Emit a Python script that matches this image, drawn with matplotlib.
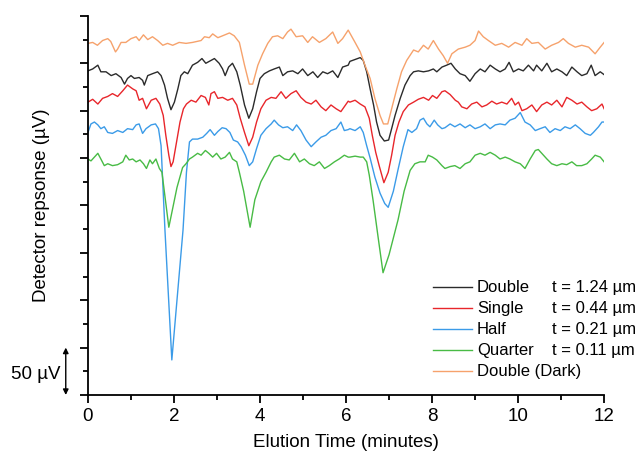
"""Cromatogramas do detector para diferentes espessuras de filme."""

import matplotlib

matplotlib.use("Agg")

import matplotlib.pyplot as plt

# Tempo (min) e sinal (uV) de cada curva.
t_double_dark = [0.0, 0.11, 0.22, 0.34, 0.46, 0.53, 0.64, 0.69, 0.77, 0.88,
                 1.0, 1.12, 1.19, 1.29, 1.39, 1.5, 1.62, 1.74, 1.85, 1.97,
                 2.12, 2.28, 2.43, 2.63, 2.71, 2.82, 2.9, 3.02, 3.13, 3.29,
                 3.4, 3.52, 3.64, 3.75, 3.83, 3.95, 4.06, 4.18, 4.29, 4.41,
                 4.53, 4.64, 4.72, 4.84, 4.99, 5.11, 5.22, 5.38, 5.53, 5.69,
                 5.81, 5.92, 6.05,
                 6.21, 6.33, 6.44, 6.56, 6.67, 6.79, 6.87, 6.97, 7.06, 7.18,
                 7.29, 7.41, 7.57, 7.68, 7.8, 7.91, 8.03, 8.15, 8.26, 8.36,
                 8.46, 8.61, 8.77, 8.88, 9.0, 9.08, 9.19, 9.31, 9.47, 9.62,
                 9.78, 9.93, 10.09, 10.2, 10.32, 10.47, 10.63, 10.78, 10.94, 11.05,
                 11.17, 11.33, 11.48, 11.64, 11.79, 11.91, 12.0]
v_double_dark = [371, 372, 369, 374, 376, 373, 362, 365, 372, 372,
                 376, 378, 374, 380, 375, 378, 374, 369, 371, 369,
                 372, 371, 372, 374, 378, 377, 381, 377, 379, 382,
                 379, 372, 348, 328, 328, 348, 360, 371, 378, 379,
                 376, 383, 386, 378, 379, 372, 378, 372, 376, 383,
                 371, 376, 385,
                 372, 362, 348, 334, 313, 295, 286, 286, 302, 323,
                 341, 353, 364, 362, 369, 365, 374, 365, 358, 350,
                 360, 365, 367, 369, 374, 384, 378, 374, 369, 371,
                 367, 372, 369, 376, 371, 372, 365, 369, 372, 376,
                 371, 367, 369, 367, 360, 367, 372]

t_double = [0.0, 0.11, 0.23, 0.3, 0.42, 0.54, 0.65, 0.77, 0.85, 0.92,
            1.0, 1.08, 1.19, 1.27, 1.31, 1.39, 1.5, 1.62, 1.7, 1.78,
            1.85, 1.93, 2.01, 2.09, 2.16, 2.24, 2.32, 2.43, 2.55, 2.65,
            2.74, 2.86, 2.94, 3.05, 3.13, 3.19, 3.27, 3.36, 3.46, 3.54,
            3.64, 3.74, 3.83, 3.92, 4.0, 4.1, 4.22, 4.33, 4.45, 4.53,
            4.64, 4.76, 4.88, 4.99, 5.11, 5.23, 5.34, 5.46, 5.57, 5.69,
            5.81, 5.92, 6.05,
            6.09, 6.21, 6.33, 6.4, 6.48, 6.56, 6.64, 6.71, 6.79, 6.89,
            6.99, 7.06, 7.14, 7.26, 7.37, 7.49, 7.57, 7.68, 7.8, 7.92,
            8.03, 8.11, 8.23, 8.34, 8.44, 8.54, 8.65, 8.77, 8.88, 9.0,
            9.12, 9.23, 9.35, 9.47, 9.58, 9.7, 9.79, 9.89, 10.01, 10.12,
            10.24, 10.36, 10.43, 10.55, 10.67, 10.78, 10.9, 11.02, 11.13, 11.25,
            11.37, 11.48, 11.6, 11.7, 11.79, 11.91, 12.0]
v_double = [342, 344, 348, 341, 341, 337, 339, 335, 328, 334,
            337, 334, 335, 332, 327, 337, 339, 341, 337, 327,
            313, 301, 309, 323, 337, 341, 339, 348, 351, 355,
            350, 353, 355, 350, 344, 337, 346, 350, 341, 327,
            306, 292, 302, 320, 334, 339, 342, 344, 346, 337,
            341, 342, 339, 344, 337, 341, 335, 341, 339, 342,
            335, 346, 348,
            352, 354, 356, 353, 341, 323, 306, 288, 274, 268,
            269, 281, 295, 313, 327, 337, 341, 342, 341, 342,
            344, 341, 346, 348, 350, 344, 339, 337, 331, 339,
            344, 341, 348, 344, 341, 344, 351, 341, 344, 342,
            348, 342, 348, 342, 350, 341, 344, 341, 337, 346,
            341, 337, 339, 348, 337, 341, 338]

t_single = [0.0, 0.11, 0.23, 0.34, 0.46, 0.57, 0.69, 0.81, 0.92, 1.04,
            1.12, 1.19, 1.27, 1.36, 1.47, 1.58, 1.67, 1.75, 1.81, 1.88,
            1.93, 1.98, 2.06, 2.14, 2.22, 2.29, 2.4, 2.51, 2.63, 2.73,
            2.81, 2.86, 2.94, 3.02, 3.13, 3.25, 3.36, 3.46, 3.54, 3.64,
            3.74, 3.83, 3.92, 4.02, 4.14, 4.26, 4.37, 4.49, 4.6, 4.72,
            4.84, 4.95, 5.07, 5.19, 5.3, 5.42, 5.53, 5.65, 5.77, 5.88,
            6.05,
            6.09, 6.21, 6.33, 6.44, 6.54, 6.61, 6.69, 6.77, 6.88, 6.98,
            7.06, 7.14, 7.23, 7.33, 7.45, 7.57, 7.68, 7.8, 7.92, 8.01,
            8.11, 8.23, 8.3, 8.42, 8.54, 8.61, 8.69, 8.81, 8.92, 9.04,
            9.16, 9.27, 9.39, 9.5, 9.62, 9.74, 9.85, 9.93, 10.01, 10.09,
            10.2, 10.32, 10.43, 10.55, 10.67, 10.78, 10.9, 11.02, 11.13, 11.25,
            11.37, 11.48, 11.6, 11.71, 11.83, 11.95, 12.0]
v_single = [309, 312, 307, 313, 315, 318, 315, 321, 327, 323,
            321, 311, 313, 302, 311, 313, 307, 295, 274, 253,
            241, 246, 267, 288, 302, 307, 311, 309, 316, 314,
            306, 318, 320, 313, 314, 311, 313, 306, 292, 277,
            263, 272, 288, 302, 311, 314, 313, 320, 313, 318,
            321, 314, 309, 307, 311, 304, 300, 306, 302, 299,
            310,
            309, 311, 307, 304, 292, 274, 256, 242, 224, 235,
            253, 274, 288, 299, 306, 309, 312, 314, 311, 316,
            313, 320, 321, 317, 311, 309, 304, 302, 307, 309,
            304, 306, 310, 307, 309, 307, 313, 306, 309, 300,
            302, 306, 299, 306, 309, 306, 311, 304, 314, 311,
            307, 309, 304, 300, 302, 307, 302]

t_half = [0.0, 0.07, 0.15, 0.23, 0.3, 0.38, 0.46, 0.57, 0.69, 0.81,
          0.92, 1.04, 1.12, 1.19, 1.27, 1.35, 1.47, 1.57, 1.64, 1.7,
          1.79, 1.95, 2.21, 2.29, 2.36, 2.43, 2.55, 2.67, 2.76, 2.84,
          2.94, 3.02, 3.12, 3.21, 3.3, 3.38, 3.48, 3.56, 3.66, 3.75,
          3.83, 3.92, 4.02, 4.14, 4.26, 4.33, 4.43, 4.53, 4.64, 4.76,
          4.85, 4.95, 5.07, 5.19, 5.3, 5.42, 5.53, 5.65, 5.77, 5.88,
          5.96, 6.05,
          6.09, 6.21, 6.33, 6.4, 6.48, 6.56, 6.67, 6.79, 6.9, 6.98,
          7.1, 7.21, 7.33, 7.44, 7.53, 7.64, 7.72, 7.8, 7.88, 7.95,
          8.05, 8.13, 8.23, 8.3, 8.42, 8.53, 8.65, 8.77, 8.88, 9.0,
          9.12, 9.23, 9.35, 9.47, 9.58, 9.7, 9.81, 9.93, 10.05, 10.16,
          10.28, 10.4, 10.51, 10.63, 10.74, 10.86, 10.98, 11.09, 11.21, 11.33,
          11.44, 11.56, 11.68, 11.75, 11.87, 11.95, 12.0]
v_half = [277, 286, 288, 285, 281, 283, 277, 276, 279, 277,
          281, 280, 285, 286, 276, 281, 285, 286, 281, 263,
          174, 37, 174, 235, 267, 270, 270, 272, 276, 280,
          274, 278, 282, 281, 277, 269, 267, 262, 253, 242,
          246, 260, 274, 281, 286, 290, 285, 282, 283, 279,
          285, 279, 269, 262, 267, 272, 274, 279, 281, 288,
          279, 280,
          281, 279, 283, 277, 263, 250, 230, 213, 202, 198,
          215, 238, 262, 280, 277, 281, 290, 292, 286, 283,
          290, 285, 281, 282, 286, 283, 286, 282, 285, 281,
          283, 286, 281, 285, 286, 285, 290, 292, 298, 288,
          285, 279, 281, 283, 277, 281, 279, 283, 281, 285,
          281, 276, 274, 277, 283, 288, 288]

t_quarter = [0.0, 0.07, 0.15, 0.23, 0.3, 0.38, 0.46, 0.57, 0.69, 0.81,
             0.88, 0.96, 1.04, 1.12, 1.21, 1.29, 1.36, 1.44, 1.5, 1.58,
             1.66, 1.72, 1.88, 2.07, 2.2, 2.28, 2.36, 2.43, 2.55, 2.63,
             2.73, 2.81, 2.9, 2.99, 3.09, 3.19, 3.29, 3.36, 3.46, 3.52,
             3.62, 3.77, 3.88, 4.02, 4.14, 4.26, 4.33, 4.45, 4.57, 4.68,
             4.8, 4.92, 5.03, 5.15, 5.26, 5.38, 5.5, 5.61, 5.73, 5.84,
             5.96, 6.05,
             6.09, 6.21, 6.33, 6.4, 6.48, 6.54, 6.63, 6.75, 6.86, 7.0,
             7.21, 7.35, 7.49, 7.6, 7.72, 7.84, 7.91, 8.01, 8.11, 8.23,
             8.3, 8.42, 8.53, 8.65, 8.77, 8.88, 9.0, 9.12, 9.23, 9.35,
             9.47, 9.58, 9.7, 9.81, 9.93, 10.05, 10.16, 10.28, 10.4, 10.47,
             10.55, 10.67, 10.78, 10.9, 11.02, 11.13, 11.25, 11.36, 11.48, 11.6,
             11.71, 11.79, 11.91, 12.0]
v_quarter = [249, 247, 251, 255, 249, 242, 244, 242, 243, 246,
             253, 248, 249, 246, 248, 244, 239, 248, 244, 249,
             239, 235, 177, 219, 240, 244, 249, 251, 255, 253,
             258, 255, 251, 255, 249, 251, 256, 249, 246, 235,
             215, 177, 206, 225, 235, 246, 251, 253, 249, 248,
             255, 246, 249, 244, 242, 246, 239, 242, 246, 249,
             253, 251,
             251, 252, 251, 251, 246, 232, 205, 165, 129, 148,
             185, 215, 237, 244, 246, 246, 253, 251, 248, 242,
             239, 241, 242, 239, 244, 246, 253, 255, 253, 256,
             253, 249, 251, 249, 246, 244, 239, 249, 258, 259,
             255, 249, 244, 242, 244, 243, 246, 242, 242, 244,
             249, 253, 251, 246]

names = ["Double", "Single", "Half", "Quarter", "Double (Dark)"]
thickness = ["t = 1.24 µm", "t = 0.44 µm", "t = 0.21 µm", "t = 0.11 µm"]
colors = ["#2b2b2b", "#e8262b", "#3b9be8", "#48bb45", "#f6a26c"]

plt.rcParams["font.family"] = ["Liberation Sans", "DejaVu Sans"]
plt.rcParams["font.size"] = 13.5

fig = plt.figure(figsize=(6.42, 4.54), dpi=100)
ax = fig.add_axes([0.137, 0.130, 0.804, 0.835])

series = [(t_double, v_double), (t_single, v_single), (t_half, v_half),
          (t_quarter, v_quarter), (t_double_dark, v_double_dark)]
for (t, v), name, color in zip(series, names, colors):
    ax.plot(t, v, color=color, linewidth=1.0, label=name)

ax.set_xlim(0, 12)
ax.set_ylim(0, 400)
ax.set_xticks(range(0, 13, 2))
ax.set_xticks(range(1, 12, 2), minor=True)
ax.set_yticks(range(0, 401, 50))
ax.set_yticks(range(25, 400, 50), minor=True)
ax.set_yticklabels([])
ax.tick_params(which="major", direction="out", length=6, width=1.3)
ax.tick_params(which="minor", direction="out", length=3.5, width=1.3)
for side in ["top", "right"]:
    ax.spines[side].set_visible(False)
for side in ["left", "bottom"]:
    ax.spines[side].set_linewidth(1.3)

ax.set_xlabel("Elution Time (minutes)", labelpad=6)
ax.set_ylabel("Detector repsonse (µV)", labelpad=18)

# Legenda sem moldura; a coluna de espessuras segue as linhas da legenda.
leg = ax.legend(loc="upper left", bbox_to_anchor=(0.669, 0.302), frameon=False,
                fontsize=12, handlelength=2.33, handletextpad=0.3, labelspacing=0.36,
                borderpad=0, borderaxespad=0)
fig.canvas.draw()
to_axes = ax.transAxes.inverted()
for label, text in zip(leg.get_texts()[:4], thickness):
    box = label.get_window_extent()
    y = to_axes.transform((0, (box.y0 + box.y1) / 2))[1]
    ax.text(0.899, y, text, transform=ax.transAxes, va="center", ha="left", fontsize=12)

# Barra de escala de 50 uV fora do eixo.
trans = ax.get_yaxis_transform()
ax.annotate("", xy=(-0.043, 0), xytext=(-0.043, 50), xycoords=trans, textcoords=trans,
            arrowprops=dict(arrowstyle="<|-|>", color="black", lw=1.0, mutation_scale=8,
                            shrinkA=0, shrinkB=0), annotation_clip=False)
ax.text(-0.053, 22, "50 µV", transform=trans, ha="right", va="center")

fig.savefig("out.png", dpi=100)
